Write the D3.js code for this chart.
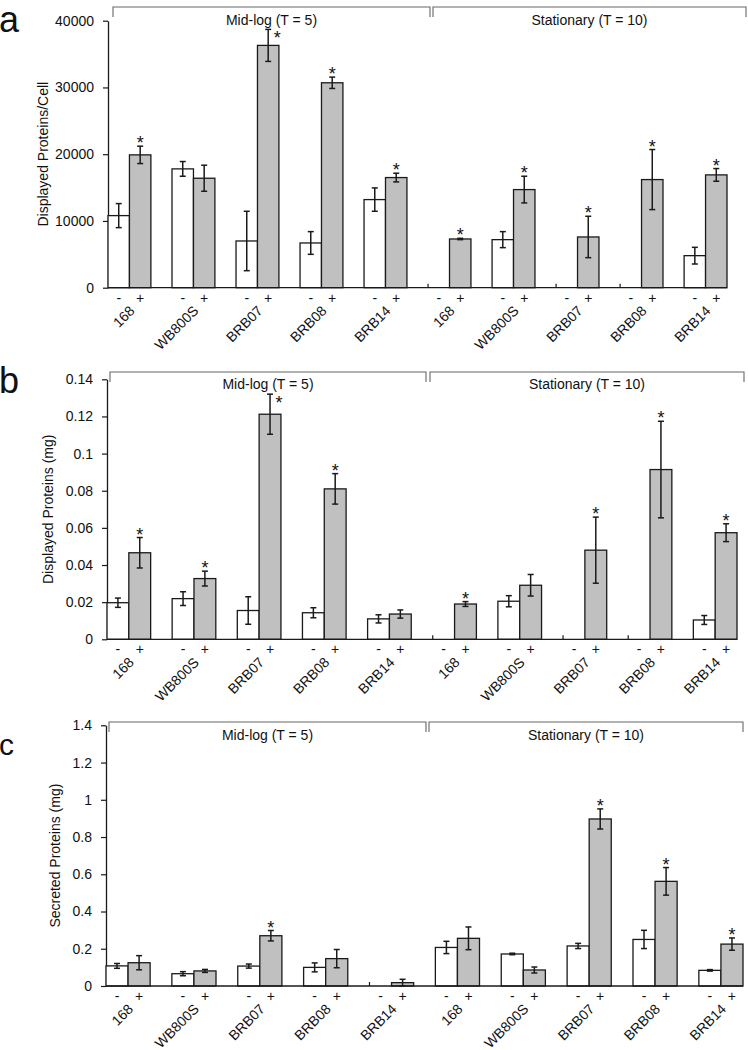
<!DOCTYPE html>
<html>
<head>
<meta charset="utf-8">
<script src="https://cdn.jsdelivr.net/npm/d3@7"></script>
<style>
  body { margin: 0; background: #fff; }
  svg { display: block; font-family: "Liberation Sans", Arial, sans-serif; }
</style>
</head>
<body>
<div class="wrap-chart"></div>
<script>
var strains = ["168", "WB800S", "BRB07", "BRB08", "BRB14", "168", "WB800S", "BRB07", "BRB08", "BRB14"];
var phases = ["Mid-log (T = 5)", "Stationary (T = 10)"];
var signs = ["-", "+"];

// panel a - displayed proteins per cell
var aTicks = [0, 10000, 20000, 30000, 40000];
var aMinus = [10800, 17800, 7000, 6700, 13200, 0, 7200, 0, 0, 4800];
var aMinusErr = [1800, 1100, 4450, 1700, 1750, 0, 1200, 0, 0, 1250];
var aPlus = [19900, 16400, 36300, 30700, 16500, 7300, 14700, 7600, 16200, 16900];
var aPlusErr = [1300, 1950, 2400, 850, 650, 100, 2000, 3100, 4500, 950];
var aStar = [1, 0, 1, 1, 1, 1, 1, 1, 1, 1];

// panel b - displayed proteins (mg)
var bTicks = [0, 0.02, 0.04, 0.06, 0.08, 0.1, 0.12, 0.14];
var bMinus = [0.0197, 0.0219, 0.0155, 0.0143, 0.011, 0, 0.0205, 0, 0, 0.0104];
var bMinusErr = [0.0025, 0.0037, 0.0074, 0.0027, 0.0022, 0, 0.003, 0, 0, 0.0024];
var bPlus = [0.0466, 0.0327, 0.1212, 0.081, 0.0136, 0.019, 0.0291, 0.048, 0.0914, 0.0574];
var bPlusErr = [0.0082, 0.004, 0.0108, 0.0082, 0.0022, 0.0013, 0.0058, 0.0178, 0.026, 0.0048];
var bStar = [1, 1, 1, 1, 0, 1, 0, 1, 1, 1];

// panel c - secreted proteins (mg)
var cTicks = [0, 0.2, 0.4, 0.6, 0.8, 1, 1.2, 1.4];
var cMinus = [0.108, 0.066, 0.107, 0.1, 0, 0.207, 0.172, 0.215, 0.25, 0.084];
var cMinusErr = [0.013, 0.011, 0.011, 0.024, 0, 0.033, 0.004, 0.014, 0.049, 0.004];
var cPlus = [0.125, 0.081, 0.27, 0.147, 0.018, 0.256, 0.086, 0.897, 0.562, 0.225];
var cPlusErr = [0.038, 0.008, 0.028, 0.049, 0.018, 0.061, 0.016, 0.054, 0.074, 0.033];
var cStar = [0, 0, 1, 0, 0, 0, 0, 1, 1, 1];

var
  width = 748,
  height = 1050,
  ink = "#1a1a1a",
  plusFill = "#c0c0c0",
  fontSize = 14;

var svg = d3.select(".wrap-chart")
  .append("svg")
  .attr("width", width)
  .attr("height", height);

svg.append("rect").attr("width", width).attr("height", height).attr("fill", "#fff");

var panels = [
  {
    letter: "a", letterSize: 36, letterY: 32,
    left: 108, right: 727, top: 20.7, bottom: 287.7,
    max: 40000, ticks: aTicks, fmt: d3.format("d"),
    title: "Displayed Proteins/Cell", titleX: 43,
    bracketY: 7, brackets: [[113, 430], [433, 746]], labelY: 25,
    minus: aMinus, minusErr: aMinusErr, plus: aPlus, plusErr: aPlusErr, star: aStar
  },
  {
    letter: "b", letterSize: 36, letterY: 393,
    left: 107, right: 737, top: 379.3, bottom: 639.3,
    max: 0.14, ticks: bTicks, fmt: function (d) { return +d.toFixed(2); },
    title: "Displayed Proteins (mg)", titleX: 48,
    bracketY: 372, brackets: [[110, 426], [430, 744]], labelY: 388.5,
    minus: bMinus, minusErr: bMinusErr, plus: bPlus, plusErr: bPlusErr, star: bStar
  },
  {
    letter: "c", letterSize: 30, letterY: 755,
    left: 106, right: 743, top: 725.3, bottom: 986,
    max: 1.4, ticks: cTicks, fmt: function (d) { return +d.toFixed(1); },
    title: "Secreted Proteins (mg)", titleX: 55,
    bracketY: 722, brackets: [[109, 426], [429, 743]], labelY: 739.5,
    minus: cMinus, minusErr: cMinusErr, plus: cPlus, plusErr: cPlusErr, star: cStar
  }
];

panels.forEach(drawPanel);

function drawPanel(p) {
  var g = svg.append("g").attr("class", "panel-" + p.letter);

  var x = d3.scaleBand()
    .domain(d3.range(strains.length))
    .range([p.left, p.right])
    .paddingInner(0.33)
    .paddingOuter(0);

  var sub = d3.scaleBand()
    .domain(signs)
    .range([0, x.bandwidth()]);

  var y = d3.scaleLinear()
    .domain([0, p.max])
    .range([p.bottom, p.top]);

  // panel letter
  g.append("text")
    .attr("x", -1)
    .attr("y", p.letterY)
    .attr("font-size", p.letterSize)
    .attr("fill", "#111")
    .text(p.letter);

  // y axis
  var yAxis = g.append("g")
    .attr("transform", "translate(" + p.left + ",0)")
    .call(d3.axisLeft(y).tickValues(p.ticks).tickFormat(p.fmt)
      .tickSize(5).tickSizeOuter(0).tickPadding(9));
  yAxis.attr("font-size", fontSize).attr("font-family", null);
  yAxis.select(".domain").attr("stroke", ink).attr("stroke-width", 1.3);
  yAxis.selectAll(".tick line").attr("stroke", ink).attr("stroke-width", 1.2);
  yAxis.selectAll(".tick text").attr("fill", "#111");

  // axis title
  g.append("text")
    .attr("transform", "translate(" + p.titleX + "," + (p.top + p.bottom) / 2 + ") rotate(-90)")
    .attr("text-anchor", "middle")
    .attr("dy", "0.35em")
    .attr("font-size", fontSize)
    .attr("fill", "#111")
    .text(p.title);

  // bar records
  var rows = [];
  strains.forEach(function (s, i) {
    rows.push({ i: i, sign: "-", v: p.minus[i], e: p.minusErr[i], star: 0 });
    rows.push({ i: i, sign: "+", v: p.plus[i], e: p.plusErr[i], star: p.star[i] });
  });

  var barX = function (d) { return x(d.i) + sub(d.sign); };
  var midX = function (d) { return barX(d) + sub.bandwidth() / 2; };

  g.selectAll(".bar")
    .data(rows.filter(function (d) { return d.v > 0; }))
    .enter().append("rect")
    .attr("class", "bar")
    .attr("x", barX)
    .attr("y", function (d) { return y(d.v); })
    .attr("width", sub.bandwidth())
    .attr("height", function (d) { return y(0) - y(d.v); })
    .attr("fill", function (d) { return d.sign === "+" ? plusFill : "#fff"; })
    .attr("stroke", ink)
    .attr("stroke-width", 1.3);

  // zero-height bars leave a small stub on the axis
  g.selectAll(".stub")
    .data(rows.filter(function (d) { return d.v === 0; }))
    .enter().append("line")
    .attr("class", "stub")
    .attr("x1", barX).attr("x2", barX)
    .attr("y1", y(0)).attr("y2", y(0) - 4)
    .attr("stroke", ink)
    .attr("stroke-width", 1.2);

  // x axis line
  g.append("line")
    .attr("x1", p.left).attr("x2", p.right)
    .attr("y1", y(0)).attr("y2", y(0))
    .attr("stroke", ink)
    .attr("stroke-width", 1.3);

  // error bars
  var errs = g.selectAll(".err")
    .data(rows.filter(function (d) { return d.v > 0 && d.e > 0; }))
    .enter().append("g")
    .attr("class", "err")
    .attr("stroke", ink)
    .attr("stroke-width", 1.5);

  errs.append("line")
    .attr("x1", midX).attr("x2", midX)
    .attr("y1", function (d) { return y(Math.max(0, d.v - d.e)); })
    .attr("y2", function (d) { return y(d.v + d.e); });
  errs.append("line")
    .attr("x1", function (d) { return midX(d) - 3; })
    .attr("x2", function (d) { return midX(d) + 3; })
    .attr("y1", function (d) { return y(d.v + d.e); })
    .attr("y2", function (d) { return y(d.v + d.e); });
  errs.append("line")
    .attr("x1", function (d) { return midX(d) - 3; })
    .attr("x2", function (d) { return midX(d) + 3; })
    .attr("y1", function (d) { return y(Math.max(0, d.v - d.e)); })
    .attr("y2", function (d) { return y(Math.max(0, d.v - d.e)); });

  // significance asterisks; moved beside the error bar when they would hit the header
  g.selectAll(".star")
    .data(rows.filter(function (d) { return d.star; }))
    .enter().append("text")
    .attr("class", "star")
    .attr("text-anchor", "middle")
    .attr("font-size", 18)
    .attr("fill", "#111")
    .each(function (d) {
      var top = y(d.v + d.e);
      var crowded = top - 16 < p.labelY + 2;
      d3.select(this)
        .attr("x", midX(d) + (crowded ? 9 : 0))
        .attr("y", crowded ? top + 15 : top + 3);
    })
    .text("*");

  // - / + labels
  g.selectAll(".sign")
    .data(rows)
    .enter().append("text")
    .attr("class", "sign")
    .attr("x", midX)
    .attr("y", y(0) + 15)
    .attr("text-anchor", "middle")
    .attr("font-size", fontSize)
    .attr("fill", "#111")
    .text(function (d) { return d.sign; });

  // strain labels, slanted
  g.selectAll(".strain")
    .data(strains)
    .enter().append("g")
    .attr("class", "strain")
    .attr("transform", function (d, i) {
      return "translate(" + (x(i) + x.bandwidth() / 2 + 6) + "," + (y(0) + 24) + ")";
    })
    .append("text")
    .attr("transform", "rotate(-45)")
    .attr("text-anchor", "end")
    .attr("font-size", fontSize)
    .attr("fill", "#111")
    .text(function (d) { return d; });

  // growth phase brackets
  p.brackets.forEach(function (b, k) {
    g.append("path")
      .attr("d", "M" + b[0] + "," + (p.bracketY + 10) + "V" + p.bracketY + "H" + b[1] + "V" + (p.bracketY + 10))
      .attr("fill", "none")
      .attr("stroke", "#666")
      .attr("stroke-width", 1.1);
    g.append("text")
      .attr("x", (b[0] + b[1]) / 2)
      .attr("y", p.labelY)
      .attr("text-anchor", "middle")
      .attr("font-size", fontSize)
      .attr("fill", "#111")
      .text(phases[k]);
  });
}
</script>
</body>
</html>
